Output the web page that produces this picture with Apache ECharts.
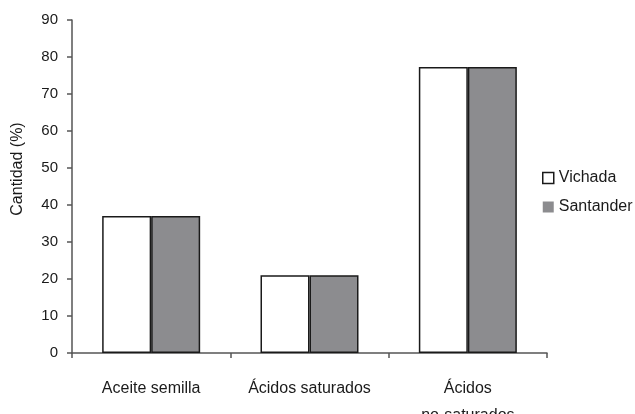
<!DOCTYPE html>
<html>
<head>
<meta charset="utf-8">
<script src="https://cdn.jsdelivr.net/npm/echarts@6/dist/echarts.min.js"></script>
<style>
  html, body { margin: 0; padding: 0; background: #fff; }
  #chart { width: 635px; height: 414px; }
</style>
</head>
<body>
<div id="chart"></div>
<script>
// Fatty acid composition of the seed oil by origin
const categories = ['Aceite semilla', 'Ácidos saturados', 'Ácidos\nno-saturados'];
const vichada = [37, 21, 77.3];
const santander = [37, 21, 77.3];
const yTicks = { min: 0, max: 90, interval: 10 };

const FONT = '"Liberation Sans", Arial, sans-serif';
const chart = echarts.init(document.getElementById('chart'), null, { renderer: 'canvas' });

chart.setOption({
  animation: false,
  backgroundColor: '#fff',
  grid: { left: 72, right: 88, top: 20, bottom: 61, containLabel: false, outerBoundsMode: 'none' },
  legend: {
    orient: 'vertical',
    left: 537,
    top: 165,
    itemWidth: 11,
    itemHeight: 11,
    itemGap: 13,
    icon: 'rect',
    textStyle: { fontFamily: FONT, fontSize: 16, color: '#1a1a1a', padding: [-4, 0, 0, 0] },
    data: [
      { name: 'Vichada', itemStyle: { color: '#fff', borderColor: '#1a1a1a', borderWidth: 1.5 } },
      { name: 'Santander', itemStyle: { color: '#8c8c8f', borderWidth: 0 } }
    ]
  },
  graphic: [{
    type: 'text',
    x: 18,
    y: 169,
    rotation: Math.PI / 2,
    style: {
      text: 'Cantidad (%)',
      font: '16px ' + FONT,
      fill: '#1a1a1a',
      textAlign: 'center',
      textVerticalAlign: 'middle'
    }
  }],
  xAxis: {
    type: 'category',
    data: categories,
    axisLine: { lineStyle: { color: '#555', width: 1.5 } },
    axisTick: { show: true, length: 5, lineStyle: { color: '#555', width: 1.5 } },
    axisLabel: {
      interval: 0,
      hideOverlap: false,
      fontFamily: FONT,
      fontSize: 16,
      color: '#1a1a1a',
      margin: 22,
      lineHeight: 27
    },
    splitLine: { show: false }
  },
  yAxis: {
    type: 'value',
    min: yTicks.min,
    max: yTicks.max,
    interval: yTicks.interval,
    axisLine: { show: true, lineStyle: { color: '#555', width: 1.5 } },
    axisTick: { show: true, length: 5, lineStyle: { color: '#555', width: 1.5 } },
    axisLabel: { fontFamily: FONT, fontSize: 15, color: '#1a1a1a', margin: 14 },
    splitLine: { show: false }
  },
  series: [
    {
      name: 'Vichada',
      type: 'bar',
      data: vichada,
      barWidth: 49,
      barGap: '0%',
      itemStyle: { color: '#fff', borderColor: '#1a1a1a', borderWidth: 1.5 }
    },
    {
      name: 'Santander',
      type: 'bar',
      data: santander,
      barWidth: 49,
      itemStyle: { color: '#8c8c8f', borderColor: '#1a1a1a', borderWidth: 1.5 }
    }
  ]
});
</script>
</body>
</html>
